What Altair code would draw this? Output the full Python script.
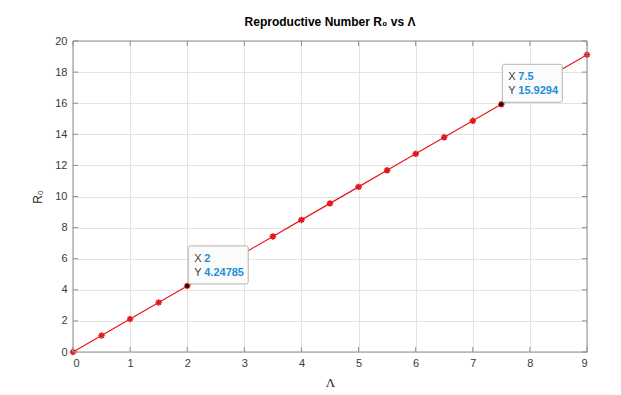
import altair as alt
import pandas as pd

# Data
lam = [0, 0.5, 1, 1.5, 2, 2.5, 3, 3.5, 4, 4.5, 5, 5.5, 6, 6.5, 7, 7.5, 8, 8.5, 9]
r0 = [0, 1.0620, 2.1239, 3.1859, 4.24785, 5.3098, 6.3718, 7.4337, 8.4957, 9.5577,
      10.6196, 11.6816, 12.7436, 13.8055, 14.8675, 15.9294, 16.9914, 18.0533, 19.1153]

tip_x = [2, 7.5]
tip_y = [4.24785, 15.9294]
tip_xlab = ["2", "7.5"]
tip_ylab = ["4.24785", "15.9294"]

x_ticks = list(range(0, 10))
y_ticks = list(range(0, 21, 2))

W, H = 514, 311
RED = "#e4191f"
FONT = "Liberation Sans"

df = pd.DataFrame({"lam": lam, "r0": r0})
tips = pd.DataFrame({"x": tip_x, "y": tip_y, "xl": tip_xlab, "yl": tip_ylab})
xt = pd.DataFrame({"v": x_ticks})
yt = pd.DataFrame({"v": y_ticks})

xs = alt.Scale(domain=[0, 9], nice=False, zero=False, padding=0)
ys = alt.Scale(domain=[0, 20], nice=False, zero=False, padding=0)

xax = alt.Axis(values=x_ticks, format="d", grid=True, gridColor="#e3e3e3", domain=False, ticks=False,
               labelFont=FONT, labelFontSize=11, labelColor="#3a3a3a", labelPadding=5,
               title="Λ", titleFont="Liberation Serif", titleFontSize=13, titleFontWeight="normal",
               titleColor="#262626", titlePadding=8)
yax = alt.Axis(values=y_ticks, format="d", grid=True, gridColor="#e3e3e3", domain=False, ticks=False,
               labelFont=FONT, labelFontSize=11, labelColor="#3a3a3a", labelPadding=6,
               title="R₀", titleFont=FONT, titleFontSize=12, titleFontWeight="normal",
               titleColor="#262626", titlePadding=10)


def X(f):
    return alt.X(f, scale=xs, axis=xax)


def Y(f):
    return alt.Y(f, scale=ys, axis=yax)


base = alt.Chart(df)

line = base.mark_line(color=RED, strokeWidth=1.2).encode(x=X("lam:Q"), y=Y("r0:Q"))

star_path = "M -1 0 L 1 0 M 0 -1 L 0 1 M -0.7 -0.7 L 0.7 0.7 M -0.7 0.7 L 0.7 -0.7"
stars = base.mark_point(shape=star_path, size=42, filled=False, color=RED, strokeWidth=1.6,
                        opacity=1).encode(x=X("lam:Q"), y=Y("r0:Q"))

# box frame
frame = alt.Chart(pd.DataFrame({"a": [0]})).mark_rect(
    fill=None, stroke="#8f8f8f", strokeWidth=1).encode(
    x=alt.value(0), x2=alt.value(W), y=alt.value(0), y2=alt.value(H))

# inward ticks on all four sides
tick_col = "#8f8f8f"
xb = alt.Chart(xt).mark_rule(color=tick_col, strokeWidth=1).encode(
    x=X("v:Q"), y=alt.value(H), y2=alt.value(H - 5))
xtp = alt.Chart(xt).mark_rule(color=tick_col, strokeWidth=1).encode(
    x=X("v:Q"), y=alt.value(0), y2=alt.value(5))
yl = alt.Chart(yt).mark_rule(color=tick_col, strokeWidth=1).encode(
    y=Y("v:Q"), x=alt.value(0), x2=alt.value(5))
yr = alt.Chart(yt).mark_rule(color=tick_col, strokeWidth=1).encode(
    y=Y("v:Q"), x=alt.value(W), x2=alt.value(W - 5))

tb = alt.Chart(tips)
tip_enc = dict(x=X("x:Q"), y=Y("y:Q"))
box = tb.mark_rect(fill="#fbfbfb", stroke="#b4b4b4", strokeWidth=1, cornerRadius=2,
                   xOffset=1, x2Offset=61, yOffset=-2, y2Offset=-40).encode(
    x=X("x:Q"), x2="x", y=Y("y:Q"), y2="y")
dots = tb.mark_circle(size=18, color="#111111", opacity=1).encode(**tip_enc)
lx = tb.mark_text(text="X", align="left", baseline="middle", dx=7, dy=-27,
                  font=FONT, fontSize=11, color="#404040").encode(**tip_enc)
ly = tb.mark_text(text="Y", align="left", baseline="middle", dx=7, dy=-13,
                  font=FONT, fontSize=11, color="#404040").encode(**tip_enc)
vx = tb.mark_text(align="left", baseline="middle", dx=17, dy=-27, font=FONT, fontSize=11,
                  fontWeight="bold", color="#1a8fd8").encode(text="xl:N", **tip_enc)
vy = tb.mark_text(align="left", baseline="middle", dx=17, dy=-13, font=FONT, fontSize=11,
                  fontWeight="bold", color="#1a8fd8").encode(text="yl:N", **tip_enc)

chart = alt.layer(line, stars, frame, xb, xtp, yl, yr, box, dots, lx, ly, vx, vy).properties(
    width=W, height=H,
    title=alt.TitleParams("Reproductive Number R₀ vs Λ", font=FONT, fontSize=12,
                          fontWeight="bold", color="#000000", offset=6, anchor="middle"),
    autosize=alt.AutoSizeParams(type="none"),
    padding={"left": 73, "top": 41, "right": 34, "bottom": 43},
).configure_view(stroke=None).configure(background="white")

chart.save("out.html", embed_options={"renderer": "svg", "actions": False})
